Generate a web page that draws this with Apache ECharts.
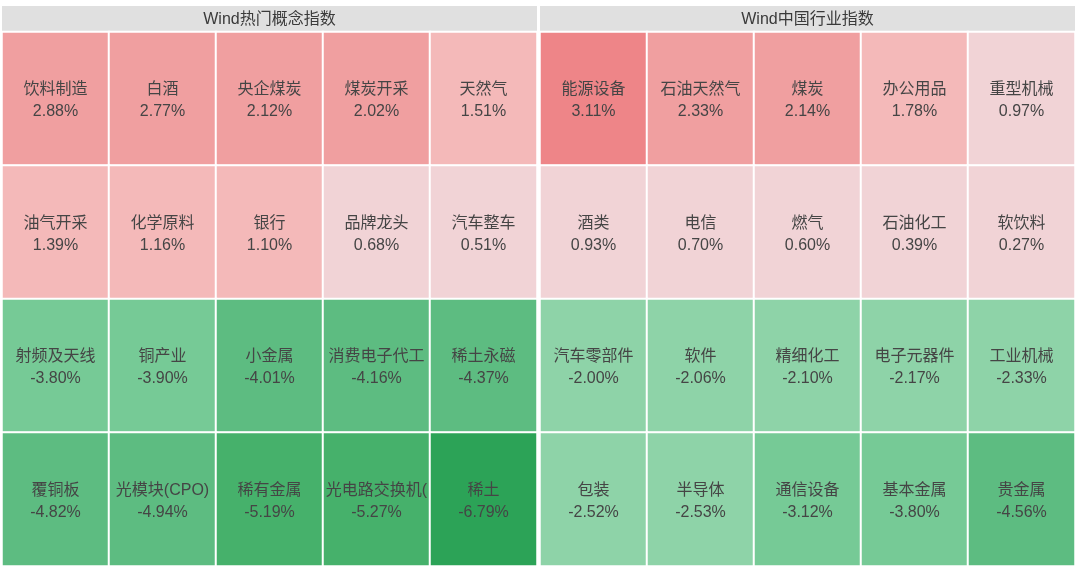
<!DOCTYPE html>
<html>
<head>
<meta charset="utf-8">
<script src="https://cdn.jsdelivr.net/npm/echarts@6/dist/echarts.min.js"></script>
<style>
html,body{margin:0;padding:0;background:#fff;}
#main{width:1080px;height:573px;}
</style>
</head>
<body>
<div id="main"></div>
<script>
// ---- data ----
const panelTitles = ['Wind热门概念指数', 'Wind中国行业指数'];
const conceptNames = [
  '饮料制造', '白酒', '央企煤炭', '煤炭开采', '天然气',
  '油气开采', '化学原料', '银行', '品牌龙头', '汽车整车',
  '射频及天线', '铜产业', '小金属', '消费电子代工', '稀土永磁',
  '覆铜板', '光模块(CPO)', '稀有金属', '光电路交换机(CPO)', '稀土'
];
const conceptValues = [
  2.88, 2.77, 2.12, 2.02, 1.51,
  1.39, 1.16, 1.10, 0.68, 0.51,
  -3.80, -3.90, -4.01, -4.16, -4.37,
  -4.82, -4.94, -5.19, -5.27, -6.79
];
const industryNames = [
  '能源设备', '石油天然气', '煤炭', '办公用品', '重型机械',
  '酒类', '电信', '燃气', '石油化工', '软饮料',
  '汽车零部件', '软件', '精细化工', '电子元器件', '工业机械',
  '包装', '半导体', '通信设备', '基本金属', '贵金属'
];
const industryValues = [
  3.11, 2.33, 2.14, 1.78, 0.97,
  0.93, 0.70, 0.60, 0.39, 0.27,
  -2.00, -2.06, -2.10, -2.17, -2.33,
  -2.52, -2.53, -3.12, -3.80, -4.56
];
const colCats = ['0', '1', '2', '3', '4'];
const rowCats = ['0', '1', '2', '3'];

// ---- build ----
function toCells(names, values) {
  return values.map((v, i) => ({
    name: names[i],
    value: [i % 5, Math.floor(i / 5), v]
  }));
}

const FONT = "'Liberation Sans', 'Noto Sans CJK SC', sans-serif";
const panels = [
  { left: 2, width: 535 },
  { left: 540, width: 535 }
];
const gridTop = 32, gridHeight = 534, headerTop = 6, headerH = 25;

const chart = echarts.init(document.getElementById('main'));

const grids = panels.map(p => ({ left: p.left, width: p.width, top: gridTop, height: gridHeight }));
const xAxes = panels.map((p, i) => ({ type: 'category', data: colCats, gridIndex: i, show: false }));
const yAxes = panels.map((p, i) => ({ type: 'category', data: rowCats, gridIndex: i, show: false, inverse: true }));

const labelCfg = {
  show: true,
  color: '#454545',
  fontSize: 16,
  lineHeight: 22,
  fontFamily: FONT,
  width: 108,
  overflow: 'truncate',
  ellipsis: '',
  offset: [0, 2],
  formatter: p => p.name + '\n' + p.value[2].toFixed(2) + '%'
};

const series = [
  [conceptNames, conceptValues],
  [industryNames, industryValues]
].map((d, i) => ({
  type: 'heatmap',
  xAxisIndex: i,
  yAxisIndex: i,
  data: toCells(d[0], d[1]),
  label: labelCfg,
  itemStyle: { borderColor: '#ffffff', borderWidth: 2 },
  emphasis: { disabled: true }
}));

const graphic = panels.map((p, i) => ({
  type: 'group',
  children: [
    { type: 'rect', shape: { x: p.left, y: headerTop, width: p.width, height: headerH }, style: { fill: '#e0e0e0' } },
    { type: 'text', x: p.left + p.width / 2, y: headerTop + headerH / 2 + 1,
      style: { text: panelTitles[i], fill: '#3a3a3a', fontSize: 16,
               fontFamily: FONT, align: 'center', verticalAlign: 'middle' } }
  ]
}));

chart.setOption({
  backgroundColor: '#ffffff',
  animation: false,
  tooltip: { show: false },
  grid: grids,
  xAxis: xAxes,
  yAxis: yAxes,
  visualMap: {
    type: 'piecewise',
    show: false,
    dimension: 2,
    seriesIndex: [0, 1],
    pieces: [
      { gte: 3, color: '#ee8588' },
      { gte: 2, lt: 3, color: '#f09fa0' },
      { gte: 1, lt: 2, color: '#f4b9b9' },
      { gte: 0, lt: 1, color: '#f1d3d6' },
      { gte: -3, lt: 0, color: '#8ed3a8' },
      { gte: -4, lt: -3, color: '#76ca96' },
      { gte: -5, lt: -4, color: '#5dbc81' },
      { gte: -6, lt: -5, color: '#46b16b' },
      { lt: -6, color: '#2ca357' }
    ]
  },
  graphic: graphic,
  series: series
});
</script>
</body>
</html>
